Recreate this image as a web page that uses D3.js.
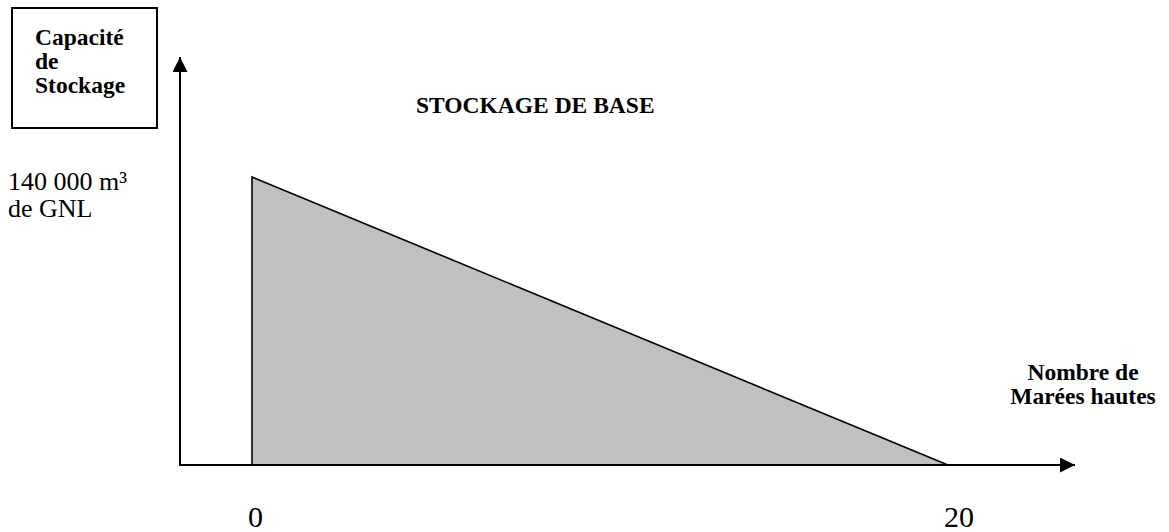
<!DOCTYPE html>
<html>
<head>
<meta charset="utf-8">
<script src="https://cdn.jsdelivr.net/npm/d3@7"></script>
<style>
  body { margin: 0; background: #fff; }
  svg { display: block; font-family: "Liberation Serif", "Times New Roman", serif; }
</style>
</head>
<body>
<svg width="1169" height="532"></svg>
<script>
// nombre de marées hautes vs capacité (m³ de GNL)
const tides = [0, 20];
const capacity = [140000, 0];
const tickLabels = ['0', '20'];
const boxLines = ['Capacité', 'de', 'Stockage'];
const yLabelLines = ['140 000 m³', 'de GNL'];
const xLabelLines = ['Nombre de', 'Marées hautes'];
const title = 'STOCKAGE DE BASE';

const svg = d3.select('svg');
const originX = 180, originY = 465;

const x = d3.scaleLinear().domain([0, 20]).range([252, 948]);
const y = d3.scaleLinear().domain([0, 140000]).range([originY, 177]);

const data = tides.map((t, i) => ({tides: t, cap: capacity[i]}));

// arrowheads
const defs = svg.append('defs');
defs.append('marker')
  .attr('id', 'arrow').attr('viewBox', '0 0 10 10')
  .attr('refX', 10).attr('refY', 5)
  .attr('markerWidth', 15).attr('markerHeight', 15)
  .attr('markerUnits', 'userSpaceOnUse')
  .attr('orient', 'auto')
  .append('path').attr('d', 'M0,0L10,5L0,10Z').attr('fill', '#000');

// filled triangle
const area = d3.area()
  .x(d => x(d.tides))
  .y0(y(0))
  .y1(d => y(d.cap));

svg.append('path')
  .datum(data)
  .attr('d', area)
  .attr('fill', '#c0c0c0')
  .attr('stroke', '#000')
  .attr('stroke-width', 1.6)
  .attr('stroke-linejoin', 'miter');

// axes
svg.append('line')
  .attr('x1', originX).attr('y1', originY)
  .attr('x2', originX).attr('y2', 57)
  .attr('stroke', '#000').attr('stroke-width', 2)
  .attr('marker-end', 'url(#arrow)');

svg.append('line')
  .attr('x1', originX - 1).attr('y1', originY)
  .attr('x2', 1075).attr('y2', originY)
  .attr('stroke', '#000').attr('stroke-width', 2.2)
  .attr('marker-end', 'url(#arrow)');

// tick labels
svg.selectAll('text.tick')
  .data(tides).enter().append('text')
  .attr('class', 'tick')
  .attr('x', d => x(d) - 4)
  .attr('y', 527)
  .attr('font-size', 30)
  .text((d, i) => tickLabels[i]);

// boxed y title
svg.append('rect')
  .attr('x', 12).attr('y', 8).attr('width', 145).attr('height', 120)
  .attr('fill', 'none').attr('stroke', '#000').attr('stroke-width', 2);

svg.selectAll('text.box')
  .data(boxLines).enter().append('text')
  .attr('class', 'box')
  .attr('x', 35).attr('y', (d, i) => 45 + i * 24)
  .attr('font-size', 23.5).attr('font-weight', 'bold')
  .text(d => d);

// max value label
svg.selectAll('text.ylab')
  .data(yLabelLines).enter().append('text')
  .attr('class', 'ylab')
  .attr('x', 8).attr('y', (d, i) => y(140000) + 13 + i * 27)
  .attr('font-size', 26)
  .text(d => d);

// title
svg.append('text')
  .attr('x', 416).attr('y', 113)
  .attr('font-size', 23.5).attr('font-weight', 'bold')
  .text(title);

// x title
svg.selectAll('text.xlab')
  .data(xLabelLines).enter().append('text')
  .attr('class', 'xlab')
  .attr('x', 1083).attr('y', (d, i) => 380 + i * 24)
  .attr('text-anchor', 'middle')
  .attr('font-size', 23.5).attr('font-weight', 'bold')
  .text(d => d);
</script>
</body>
</html>
